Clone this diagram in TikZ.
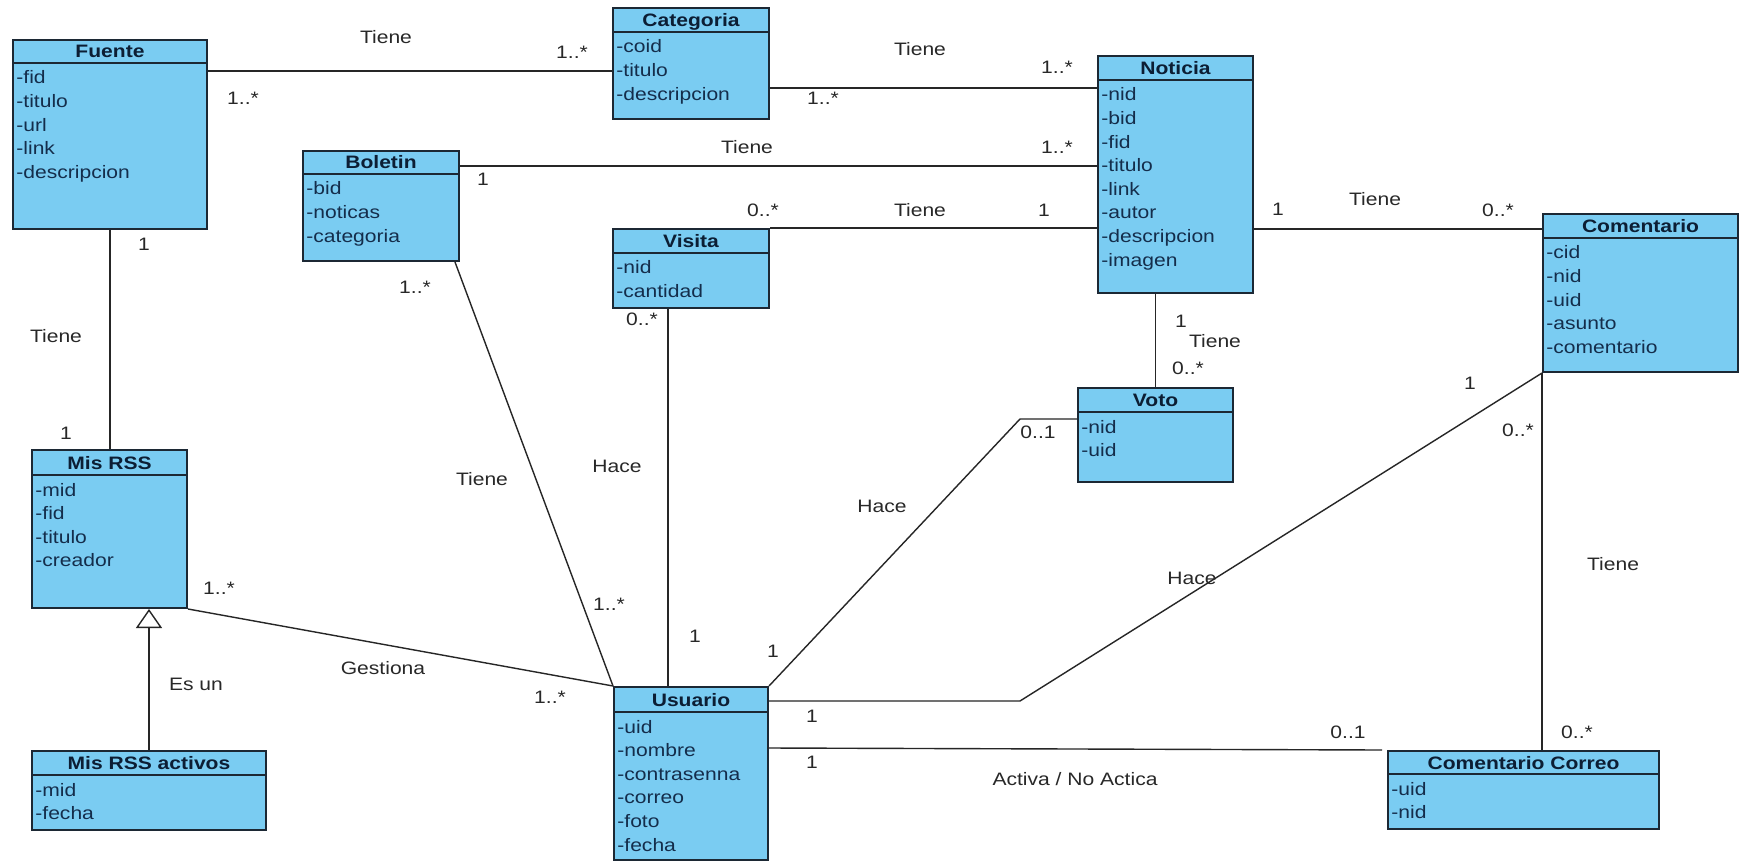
\documentclass[tikz,border=0pt]{standalone}
\usepackage{fontspec}
\setmainfont{Liberation Sans}[FakeStretch=1.17]
\usetikzlibrary{fit,arrows.meta}
\definecolor{clsfill}{RGB}{122,204,242}
\definecolor{clsdraw}{RGB}{28,40,52}
\definecolor{hdrtext}{RGB}{12,30,52}
\definecolor{attrtext}{RGB}{20,45,75}
\definecolor{lbltext}{RGB}{40,40,40}
\tikzset{
 clsbox/.style={draw=clsdraw, fill=clsfill, line width=1pt, inner sep=0pt},
 hdrline/.style={draw=clsdraw, line width=1pt},
 hdr/.style={font=\fontsize{9}{10}\selectfont\bfseries, text=hdrtext, inner sep=0pt, text height=6.5pt, text depth=0pt},
 attr/.style={font=\fontsize{9}{10}\selectfont, text=attrtext, inner sep=0pt, anchor=base west},
 lbl/.style={font=\fontsize{9}{10}\selectfont, text=lbltext, inner sep=0pt, text height=6.5pt, text depth=0pt},
 assoc/.style={draw=black!85, line width=0.7pt},
}
\newcommand{\umlclass}[8]{%
 \node[clsbox, fit={(#2,#3) (#4,#5)}] (#1) {};
 \draw[hdrline] (#2,#6) -- (#4,#6);
 \node[hdr] (#1-t) at ({(#2+#4)/2},{(#3+#6)/2}) {#7};
 \foreach \attr [count=\i] in {#8} {
   \node[attr] (#1-\i) at ({#2+3},{#6+21+23.6*(\i-1)}) {\attr};
 }
}
\begin{document}
\begin{tikzpicture}[x=0.5pt,y=-0.5pt]
\useasboundingbox (0,0) rectangle (1745,861);
\fill[white] (0,0) rectangle (1745,861);

\umlclass{fuente}{13}{40}{207}{229}{63}{Fuente}{-fid,-titulo,-url,-link,-descripcion}
\umlclass{categoria}{613}{8}{769}{119}{32}{Categoria}{-coid,-titulo,-descripcion}
\umlclass{noticia}{1098}{56}{1253}{293}{80}{Noticia}{-nid,-bid,-fid,-titulo,-link,-autor,-descripcion,-imagen}
\umlclass{boletin}{303}{151}{459}{261}{174}{Boletin}{-bid,-noticas,-categoria}
\umlclass{visita}{613}{229}{769}{308}{253}{Visita}{-nid,-cantidad}
\umlclass{comentario}{1543}{214}{1738}{372}{238}{Comentario}{-cid,-nid,-uid,-asunto,-comentario}
\umlclass{voto}{1078}{388}{1233}{482}{412}{Voto}{-nid,-uid}
\umlclass{misrss}{32}{450}{187}{608}{475}{Mis RSS}{-mid,-fid,-titulo,-creador}
\umlclass{misactivos}{32}{751}{266}{830}{775}{Mis RSS activos}{-mid,-fecha}
\umlclass{usuario}{614}{687}{768}{860}{712}{Usuario}{-uid,-nombre,-contrasenna,-correo,-foto,-fecha}
\umlclass{comcorreo}{1388}{751}{1659}{829}{774}{Comentario Correo}{-uid,-nid}

\coordinate (bendV) at (1020,419);
\coordinate (bendC) at (1020,701);

% connectors
\draw[assoc] (fuente.east |- 0,71) -- (categoria.west |- 0,71);
\draw[assoc] (categoria.east |- 0,88) -- (noticia.west |- 0,88);
\draw[assoc] (boletin.east |- 0,166) -- (noticia.west |- 0,166);
\draw[assoc] (visita.north east) -- (noticia.west |- visita.north);
\draw[assoc] (noticia.east |- 0,229) -- (comentario.west |- 0,229);
\draw[assoc] (fuente.south) -- (fuente.south |- misrss.north);
\draw[assoc] ([xshift=-2.5pt]boletin.south east) -- (usuario.north west);
\draw[assoc] ([xshift=-11.5pt]visita.south) -- ([xshift=-11.5pt]visita.south |- usuario.north);
\draw[assoc] (voto.north |- noticia.south) -- (voto.north);
\draw[assoc] (voto.west |- bendV) -- (bendV) -- (usuario.north east);
\draw[assoc] (usuario.east |- bendC) -- (bendC) -- (comentario.south west);
\draw[assoc] (comentario.south west) -- (comentario.south west |- comcorreo.north);
\draw[assoc] ([xshift=-1pt]usuario.east |- 0,748) -- ([xshift=-2.5pt]comcorreo.north west);
\draw[assoc] (misrss.south east) -- (usuario.north west);
\draw[assoc, -{Triangle[open, length=9.5pt, width=13pt, fill=white]}] (misactivos.north) -- (misactivos.north |- misrss.south);

% labels
\node[lbl] (l1) at (386,37) {Tiene};
\node[lbl] (l2) at (572,52) {1..*};
\node[lbl] (l3) at (243,98) {1..*};
\node[lbl] (l4) at (920,49) {Tiene};
\node[lbl] (l5) at (1057,67) {1..*};
\node[lbl] (l6) at (823,98) {1..*};
\node[lbl] (l7) at (747,147) {Tiene};
\node[lbl] (l8) at (1057,147) {1..*};
\node[lbl] (l9) at (483,179) {1};
\node[lbl] (l10) at (920,210) {Tiene};
\node[lbl] (l11) at (763,210) {0..*};
\node[lbl] (l12) at (1044,210) {1};
\node[lbl] (l13) at (1278,209) {1};
\node[lbl] (l14) at (1375,199) {Tiene};
\node[lbl] (l15) at (1498,210) {0..*};
\node[lbl] (l16) at (144,244) {1};
\node[lbl] (l17) at (56,336) {Tiene};
\node[lbl] (l18) at (66,433) {1};
\node[lbl] (l19) at (415,287) {1..*};
\node[lbl] (l20) at (482,479) {Tiene};
\node[lbl] (l21) at (609,604) {1..*};
\node[lbl] (l22) at (642,319) {0..*};
\node[lbl] (l23) at (617,466) {Hace};
\node[lbl] (l24) at (695,636) {1};
\node[lbl] (l25) at (1181,321) {1};
\node[lbl] (l26) at (1215,341) {Tiene};
\node[lbl] (l27) at (1188,368) {0..*};
\node[lbl] (l28) at (1038,432) {0..1};
\node[lbl] (l29) at (882,506) {Hace};
\node[lbl] (l30) at (773,651) {1};
\node[lbl] (l31) at (1470,383) {1};
\node[lbl] (l32) at (1192,578) {Hace};
\node[lbl] (l33) at (812,716) {1};
\node[lbl] (l34) at (1518,430) {0..*};
\node[lbl] (l35) at (1613,564) {Tiene};
\node[lbl] (l36) at (1577,732) {0..*};
\node[lbl] (l37) at (812,762) {1};
\node[lbl] (l38) at (1348,732) {0..1};
\node[lbl] (l39) at (1075,779) {Activa / No Actica};
\node[lbl] (l40) at (219,588) {1..*};
\node[lbl] (l41) at (383,668) {Gestiona};
\node[lbl] (l42) at (550,697) {1..*};
\node[lbl] (l43) at (196,684) {Es un};
\end{tikzpicture}
\end{document}
